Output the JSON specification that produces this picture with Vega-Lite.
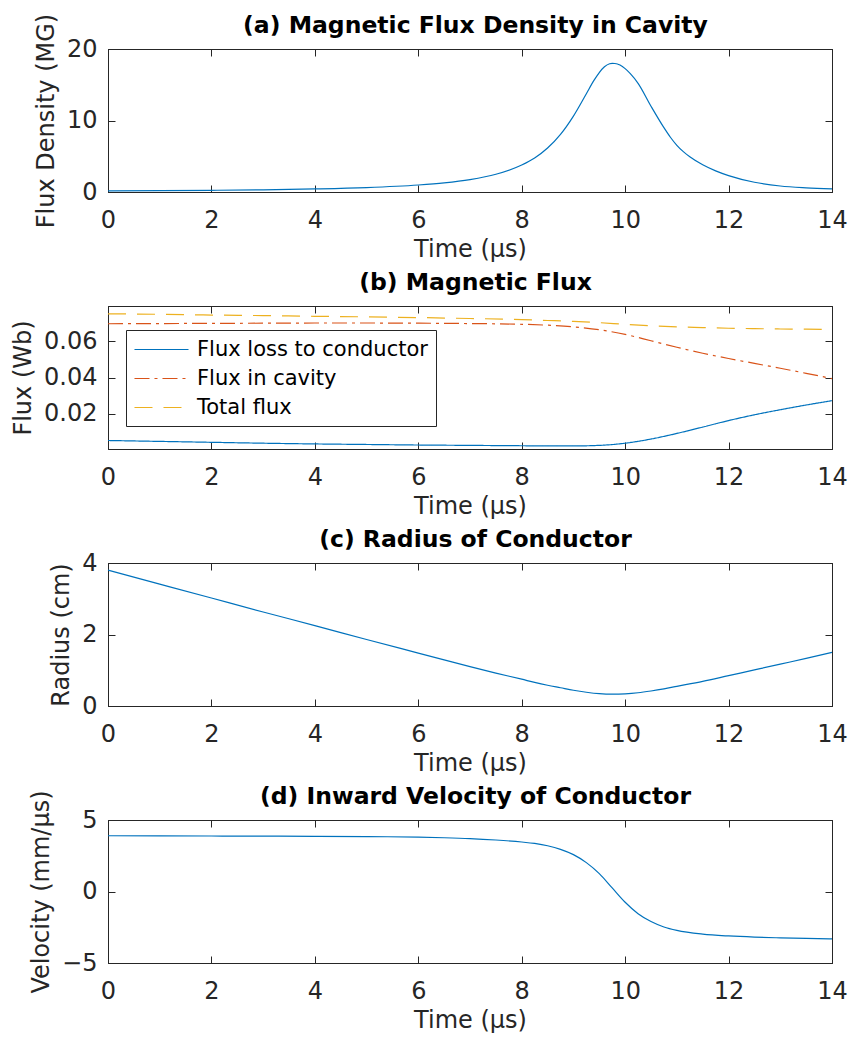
{
  "$schema": "https://vega.github.io/schema/vega-lite/v6.json",
  "background": "white",
  "padding": {"left": 11, "top": 12, "right": 10, "bottom": 5},
  "spacing": 114,
  "bounds": "flush",
  "datasets": {
    "density": [
      {"t": 0, "B": 0.15}, {"t": 1, "B": 0.19}, {"t": 2, "B": 0.24}, {"t": 3, "B": 0.31},
      {"t": 4, "B": 0.43}, {"t": 5, "B": 0.62}, {"t": 6, "B": 0.98}, {"t": 6.5, "B": 1.28},
      {"t": 7, "B": 1.74}, {"t": 7.5, "B": 2.48}, {"t": 8, "B": 3.77}, {"t": 8.25, "B": 4.76},
      {"t": 8.5, "B": 6.15}, {"t": 8.75, "B": 8.06}, {"t": 9, "B": 10.62}, {"t": 9.25, "B": 13.75},
      {"t": 9.4, "B": 15.64}, {"t": 9.5, "B": 16.71}, {"t": 9.6, "B": 17.51}, {"t": 9.7, "B": 17.94},
      {"t": 9.75, "B": 18.0}, {"t": 9.8, "B": 17.97}, {"t": 9.85, "B": 17.9}, {"t": 9.9, "B": 17.75},
      {"t": 10, "B": 17.25}, {"t": 10.1, "B": 16.55}, {"t": 10.25, "B": 15.2}, {"t": 10.5, "B": 12.0},
      {"t": 10.75, "B": 9.0}, {"t": 10.875, "B": 7.66}, {"t": 11, "B": 6.53}, {"t": 11.125, "B": 5.64},
      {"t": 11.25, "B": 4.92}, {"t": 11.5, "B": 3.8}, {"t": 11.75, "B": 2.95}, {"t": 12, "B": 2.29},
      {"t": 12.5, "B": 1.36}, {"t": 13, "B": 0.84}, {"t": 13.5, "B": 0.59}, {"t": 14, "B": 0.44}
    ],
    "flux": [
      {"t": 0, "series": "Flux loss to conductor", "v": 0.0052},
      {"t": 1, "series": "Flux loss to conductor", "v": 0.0047},
      {"t": 2, "series": "Flux loss to conductor", "v": 0.0042},
      {"t": 3, "series": "Flux loss to conductor", "v": 0.0037},
      {"t": 4, "series": "Flux loss to conductor", "v": 0.0033},
      {"t": 5, "series": "Flux loss to conductor", "v": 0.0030},
      {"t": 6, "series": "Flux loss to conductor", "v": 0.0027},
      {"t": 7, "series": "Flux loss to conductor", "v": 0.0025},
      {"t": 8, "series": "Flux loss to conductor", "v": 0.0023},
      {"t": 8.5, "series": "Flux loss to conductor", "v": 0.0022},
      {"t": 9, "series": "Flux loss to conductor", "v": 0.0022},
      {"t": 9.5, "series": "Flux loss to conductor", "v": 0.0025},
      {"t": 10, "series": "Flux loss to conductor", "v": 0.0037},
      {"t": 10.5, "series": "Flux loss to conductor", "v": 0.0060},
      {"t": 11, "series": "Flux loss to conductor", "v": 0.0091},
      {"t": 11.5, "series": "Flux loss to conductor", "v": 0.0126},
      {"t": 12, "series": "Flux loss to conductor", "v": 0.0162},
      {"t": 12.5, "series": "Flux loss to conductor", "v": 0.0194},
      {"t": 13, "series": "Flux loss to conductor", "v": 0.0222},
      {"t": 13.5, "series": "Flux loss to conductor", "v": 0.0248},
      {"t": 14, "series": "Flux loss to conductor", "v": 0.0272},
      {"t": 0, "series": "Flux in cavity", "v": 0.0697},
      {"t": 1, "series": "Flux in cavity", "v": 0.0698},
      {"t": 2, "series": "Flux in cavity", "v": 0.0699},
      {"t": 3, "series": "Flux in cavity", "v": 0.0700},
      {"t": 4, "series": "Flux in cavity", "v": 0.0701},
      {"t": 5, "series": "Flux in cavity", "v": 0.0701},
      {"t": 6, "series": "Flux in cavity", "v": 0.0700},
      {"t": 7, "series": "Flux in cavity", "v": 0.0698},
      {"t": 8, "series": "Flux in cavity", "v": 0.0694},
      {"t": 8.5, "series": "Flux in cavity", "v": 0.0689},
      {"t": 9, "series": "Flux in cavity", "v": 0.0680},
      {"t": 9.5, "series": "Flux in cavity", "v": 0.0664},
      {"t": 10, "series": "Flux in cavity", "v": 0.0638},
      {"t": 10.5, "series": "Flux in cavity", "v": 0.0603},
      {"t": 11, "series": "Flux in cavity", "v": 0.0567},
      {"t": 11.5, "series": "Flux in cavity", "v": 0.0534},
      {"t": 12, "series": "Flux in cavity", "v": 0.0505},
      {"t": 12.5, "series": "Flux in cavity", "v": 0.0478},
      {"t": 13, "series": "Flux in cavity", "v": 0.0451},
      {"t": 13.5, "series": "Flux in cavity", "v": 0.0423},
      {"t": 14, "series": "Flux in cavity", "v": 0.0394},
      {"t": 0, "series": "Total flux", "v": 0.0752},
      {"t": 1, "series": "Total flux", "v": 0.0749},
      {"t": 2, "series": "Total flux", "v": 0.0745},
      {"t": 3, "series": "Total flux", "v": 0.0742},
      {"t": 4, "series": "Total flux", "v": 0.0738},
      {"t": 5, "series": "Total flux", "v": 0.0735},
      {"t": 6, "series": "Total flux", "v": 0.0731},
      {"t": 7, "series": "Total flux", "v": 0.0726},
      {"t": 8, "series": "Total flux", "v": 0.0720},
      {"t": 8.5, "series": "Total flux", "v": 0.0715},
      {"t": 9, "series": "Total flux", "v": 0.0710},
      {"t": 9.5, "series": "Total flux", "v": 0.0703},
      {"t": 10, "series": "Total flux", "v": 0.0694},
      {"t": 10.5, "series": "Total flux", "v": 0.0686},
      {"t": 11, "series": "Total flux", "v": 0.0680},
      {"t": 11.5, "series": "Total flux", "v": 0.0676},
      {"t": 12, "series": "Total flux", "v": 0.0672},
      {"t": 12.5, "series": "Total flux", "v": 0.0670},
      {"t": 13, "series": "Total flux", "v": 0.0668},
      {"t": 13.5, "series": "Total flux", "v": 0.0667},
      {"t": 14, "series": "Total flux", "v": 0.0666}
    ],
    "radius": [
      {"t": 0, "R": 3.8}, {"t": 1, "R": 3.41}, {"t": 2, "R": 3.02}, {"t": 3, "R": 2.63},
      {"t": 4, "R": 2.25}, {"t": 5, "R": 1.86}, {"t": 6, "R": 1.48}, {"t": 6.5, "R": 1.29},
      {"t": 7, "R": 1.1}, {"t": 7.5, "R": 0.92}, {"t": 8, "R": 0.75}, {"t": 8.25, "R": 0.66},
      {"t": 8.5, "R": 0.58}, {"t": 8.75, "R": 0.51}, {"t": 9, "R": 0.44}, {"t": 9.25, "R": 0.385},
      {"t": 9.5, "R": 0.345}, {"t": 9.75, "R": 0.33}, {"t": 10, "R": 0.34}, {"t": 10.25, "R": 0.37},
      {"t": 10.5, "R": 0.42}, {"t": 10.75, "R": 0.48}, {"t": 11, "R": 0.55}, {"t": 11.5, "R": 0.69},
      {"t": 12, "R": 0.85}, {"t": 12.5, "R": 1.01}, {"t": 13, "R": 1.17}, {"t": 13.5, "R": 1.33},
      {"t": 14, "R": 1.5}
    ],
    "velocity": [
      {"t": 0, "V": 3.9}, {"t": 1, "V": 3.89}, {"t": 2, "V": 3.88}, {"t": 3, "V": 3.87},
      {"t": 4, "V": 3.86}, {"t": 5, "V": 3.84}, {"t": 6, "V": 3.8}, {"t": 6.5, "V": 3.76},
      {"t": 7, "V": 3.7}, {"t": 7.5, "V": 3.6}, {"t": 8, "V": 3.46}, {"t": 8.25, "V": 3.36},
      {"t": 8.5, "V": 3.2}, {"t": 8.75, "V": 2.95}, {"t": 9, "V": 2.58}, {"t": 9.25, "V": 2.02},
      {"t": 9.5, "V": 1.25}, {"t": 9.75, "V": 0.25}, {"t": 10, "V": -0.75}, {"t": 10.25, "V": -1.55},
      {"t": 10.5, "V": -2.1}, {"t": 10.75, "V": -2.48}, {"t": 11, "V": -2.72}, {"t": 11.5, "V": -2.98},
      {"t": 12, "V": -3.11}, {"t": 12.5, "V": -3.19}, {"t": 13, "V": -3.24}, {"t": 13.5, "V": -3.28},
      {"t": 14, "V": -3.31}
    ]
  },
  "config": {
    "view": {"stroke": "#262626", "strokeWidth": 1},
    "font": "DejaVu Sans",
    "axis": {
      "grid": false,
      "domainColor": "#262626",
      "tickColor": "#262626",
      "labelColor": "#262626",
      "titleColor": "#262626",
      "labelFont": "DejaVu Sans",
      "titleFont": "DejaVu Sans",
      "labelFontSize": 24,
      "titleFontSize": 24,
      "titleFontWeight": "normal",
      "tickSize": -7,
      "labelFlush": false,
      "labelOverlap": false
    },
    "axisX": {"labelPadding": 23, "titlePadding": 5},
    "axisY": {"labelPadding": 18, "titlePadding": 8},
    "axisTop": {
      "labels": false,
      "titleFontWeight": "bold",
      "titleFontSize": 23.5,
      "titleColor": "#000000",
      "titlePadding": 12,
      "titleX": 367,
      "minExtent": 0,
      "maxExtent": 0
    },
    "axisRight": {"labels": false, "title": null, "minExtent": 0, "maxExtent": 0},
    "line": {"strokeWidth": 1.2, "interpolate": "monotone"}
  },
  "vconcat": [
    {
      "width": 724,
      "height": 143,
      "data": {"name": "density"},
      "resolve": {"axis": {"x": "independent", "y": "independent"}},
      "layer": [
        {
          "mark": {"type": "line", "color": "#0072BD"},
          "encoding": {
            "x": {"field": "t", "type": "quantitative", "scale": {"domain": [0, 14], "nice": false},
                  "axis": {"values": [0, 2, 4, 6, 8, 10, 12, 14], "title": "Time (μs)"}},
            "y": {"field": "B", "type": "quantitative", "scale": {"domain": [0, 20], "nice": false},
                  "axis": {"values": [0, 10, 20], "title": "Flux Density (MG)"}}
          }
        },
        {
          "mark": {"type": "line", "strokeOpacity": 0},
          "encoding": {
            "x": {"field": "t", "type": "quantitative",
                  "axis": {"orient": "top", "values": [0, 2, 4, 6, 8, 10, 12, 14], "title": "(a) Magnetic Flux Density in Cavity"}},
            "y": {"field": "B", "type": "quantitative",
                  "axis": {"orient": "right", "values": [0, 10, 20]}}
          }
        }
      ]
    },
    {
      "width": 724,
      "height": 143,
      "data": {"name": "flux"},
      "resolve": {"axis": {"x": "independent", "y": "independent"}},
      "layer": [
        {
          "mark": {"type": "line"},
          "encoding": {
            "x": {"field": "t", "type": "quantitative", "scale": {"domain": [0, 14], "nice": false},
                  "axis": {"values": [0, 2, 4, 6, 8, 10, 12, 14], "title": "Time (μs)"}},
            "y": {"field": "v", "type": "quantitative", "scale": {"domain": [0.0005, 0.0795], "nice": false, "zero": false},
                  "axis": {"values": [0.02, 0.04, 0.06], "format": ".2f", "title": "Flux (Wb)"}},
            "color": {
              "field": "series", "type": "nominal",
              "scale": {"domain": ["Flux loss to conductor", "Flux in cavity", "Total flux"],
                        "range": ["#0072BD", "#D95319", "#EDB120"]},
              "legend": {
                "title": null,
                "orient": "none",
                "legendX": 18,
                "legendY": 281,
                "direction": "vertical",
                "symbolType": "M-2.5,0L2.5,0",
                "symbolSize": 467,
                "symbolOffset": 16,
                "symbolStrokeWidth": 1.2,
                "labelFont": "DejaVu Sans",
                "labelFontSize": 21,
                "labelColor": "#000000",
                "labelOffset": 24,
                "rowPadding": 7,
                "padding": 8,
                "strokeColor": "#262626",
                "fillColor": "#ffffff",
                "labelLimit": 400
              }
            },
            "strokeDash": {
              "field": "series", "type": "nominal",
              "scale": {"domain": ["Flux loss to conductor", "Flux in cavity", "Total flux"],
                        "range": [[1, 0], [15, 5, 3, 5], [18, 11]]}
            }
          }
        },
        {
          "mark": {"type": "line", "strokeOpacity": 0},
          "encoding": {
            "x": {"field": "t", "type": "quantitative",
                  "axis": {"orient": "top", "values": [0, 2, 4, 6, 8, 10, 12, 14], "title": "(b) Magnetic Flux"}},
            "y": {"field": "v", "type": "quantitative",
                  "axis": {"orient": "right", "values": [0.02, 0.04, 0.06]}},
            "detail": {"field": "series"}
          }
        }
      ]
    },
    {
      "width": 724,
      "height": 143,
      "data": {"name": "radius"},
      "resolve": {"axis": {"x": "independent", "y": "independent"}},
      "layer": [
        {
          "mark": {"type": "line", "color": "#0072BD"},
          "encoding": {
            "x": {"field": "t", "type": "quantitative", "scale": {"domain": [0, 14], "nice": false},
                  "axis": {"values": [0, 2, 4, 6, 8, 10, 12, 14], "title": "Time (μs)"}},
            "y": {"field": "R", "type": "quantitative", "scale": {"domain": [0, 4], "nice": false},
                  "axis": {"values": [0, 2, 4], "title": "Radius (cm)"}}
          }
        },
        {
          "mark": {"type": "line", "strokeOpacity": 0},
          "encoding": {
            "x": {"field": "t", "type": "quantitative",
                  "axis": {"orient": "top", "values": [0, 2, 4, 6, 8, 10, 12, 14], "title": "(c) Radius of Conductor"}},
            "y": {"field": "R", "type": "quantitative",
                  "axis": {"orient": "right", "values": [0, 2, 4]}}
          }
        }
      ]
    },
    {
      "width": 724,
      "height": 143,
      "data": {"name": "velocity"},
      "resolve": {"axis": {"x": "independent", "y": "independent"}},
      "layer": [
        {
          "mark": {"type": "line", "color": "#0072BD"},
          "encoding": {
            "x": {"field": "t", "type": "quantitative", "scale": {"domain": [0, 14], "nice": false},
                  "axis": {"values": [0, 2, 4, 6, 8, 10, 12, 14], "title": "Time (μs)"}},
            "y": {"field": "V", "type": "quantitative", "scale": {"domain": [-5, 5], "nice": false},
                  "axis": {"values": [-5, 0, 5], "title": "Velocity (mm/μs)"}}
          }
        },
        {
          "mark": {"type": "line", "strokeOpacity": 0},
          "encoding": {
            "x": {"field": "t", "type": "quantitative",
                  "axis": {"orient": "top", "values": [0, 2, 4, 6, 8, 10, 12, 14], "title": "(d) Inward Velocity of Conductor"}},
            "y": {"field": "V", "type": "quantitative",
                  "axis": {"orient": "right", "values": [-5, 0, 5]}}
          }
        }
      ]
    }
  ]
}
